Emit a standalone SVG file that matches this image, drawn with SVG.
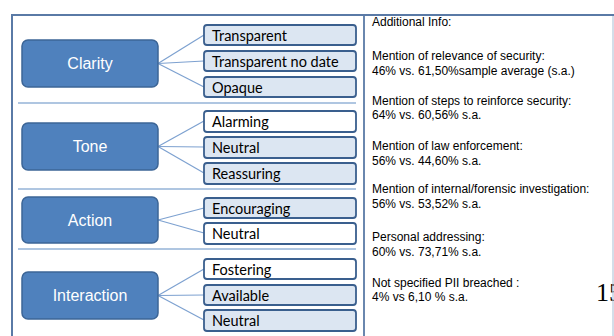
<svg xmlns="http://www.w3.org/2000/svg" width="614" height="336" viewBox="0 0 614 336">
<style>
.cat rect{fill:#4F81BD;stroke:#3C6596;stroke-width:1.5}
.cat text{fill:#fff;font-family:"Liberation Sans",Arial,sans-serif;font-size:16px;text-anchor:middle}
.item rect{stroke:#3A5F8E;stroke-width:1.8}
.lb rect{fill:#DCE6F2}
.wh rect{fill:#fff}
.item text{fill:#000;font-family:Lato,"Open Sans",sans-serif;font-size:14.5px}
.conn line{stroke:#7DA1D0;stroke-width:1.2}
.sep{stroke:#95B3D7;stroke-width:1.5}
.info text{fill:#000;font-family:"Liberation Sans",Arial,sans-serif;font-size:12px}
</style>
<rect width="614" height="336" fill="#fff"/>
<!-- frames -->
<path d="M12,340 V15 H614" fill="none" stroke="#5A7AA6" stroke-width="2"/>
<line x1="364" y1="15" x2="364" y2="340" stroke="#5A7AA6" stroke-width="1.8"/>
<line class="sep" x1="18" y1="103" x2="356" y2="103"/>
<line class="sep" x1="18" y1="189" x2="356" y2="189"/>
<line class="sep" x1="18" y1="249" x2="356" y2="249"/>
<g id="connectors" class="conn">
<line x1="158" y1="63.5" x2="204" y2="35"/>
<line x1="158" y1="63.5" x2="204" y2="61"/>
<line x1="158" y1="63.5" x2="204" y2="87"/>
<line x1="158" y1="146.5" x2="204" y2="121"/>
<line x1="158" y1="146.5" x2="204" y2="147"/>
<line x1="158" y1="146.5" x2="204" y2="173"/>
<line x1="158" y1="220" x2="204" y2="208"/>
<line x1="158" y1="220" x2="204" y2="233"/>
<line x1="158" y1="295.5" x2="204" y2="269"/>
<line x1="158" y1="295.5" x2="204" y2="295"/>
<line x1="158" y1="295.5" x2="204" y2="320"/>
</g>
<g id="clarity" class="cat"><rect x="22" y="40" width="136" height="47" rx="6"/><text x="90" y="69">Clarity</text></g>
<g id="tone" class="cat"><rect x="22" y="123" width="136" height="47" rx="6"/><text x="90" y="152">Tone</text></g>
<g id="action" class="cat"><rect x="22" y="197" width="136" height="46" rx="6"/><text x="90" y="226">Action</text></g>
<g id="interaction" class="cat"><rect x="22" y="272" width="136" height="47" rx="6"/><text x="90" y="301">Interaction</text></g>

<g id="transparent" class="item lb"><rect x="204" y="25" width="152" height="20" rx="3"/><text x="212" y="40.5">Transparent</text></g>
<g id="transparent-no-date" class="item lb"><rect x="204" y="51" width="152" height="20" rx="3"/><text x="212" y="66.5">Transparent no date</text></g>
<g id="opaque" class="item lb"><rect x="204" y="77" width="152" height="20" rx="3"/><text x="212" y="92.5">Opaque</text></g>

<g id="alarming" class="item wh"><rect x="204" y="111" width="152" height="21" rx="3"/><text x="212" y="127">Alarming</text></g>
<g id="tone-neutral" class="item lb"><rect x="204" y="137" width="152" height="21" rx="3"/><text x="212" y="153">Neutral</text></g>
<g id="reassuring" class="item lb"><rect x="204" y="163" width="152" height="21" rx="3"/><text x="212" y="179">Reassuring</text></g>

<g id="encouraging" class="item lb"><rect x="204" y="198" width="152" height="20" rx="3"/><text x="212" y="213.5">Encouraging</text></g>
<g id="action-neutral" class="item wh"><rect x="204" y="223" width="152" height="21" rx="3"/><text x="212" y="239">Neutral</text></g>

<g id="fostering" class="item wh"><rect x="204" y="259" width="152" height="20" rx="3"/><text x="212" y="274.5">Fostering</text></g>
<g id="available" class="item lb"><rect x="204" y="285" width="152" height="20" rx="3"/><text x="212" y="300.5">Available</text></g>
<g id="interaction-neutral" class="item lb"><rect x="204" y="310" width="152" height="21" rx="3"/><text x="212" y="326">Neutral</text></g>

<g id="additional-info" class="info">
<text x="372" y="26">Additional Info:</text>
<text x="372" y="60">Mention of relevance of security:</text>
<text x="372" y="75">46% vs. 61,50%sample average (s.a.)</text>
<text x="372" y="105">Mention of steps to reinforce security:</text>
<text x="372" y="119">64% vs. 60,56% s.a.</text>
<text x="372" y="150">Mention of law enforcement:</text>
<text x="372" y="165">56% vs. 44,60% s.a.</text>
<text x="372" y="193">Mention of internal/forensic investigation:</text>
<text x="372" y="208">56% vs. 53,52% s.a.</text>
<text x="372" y="241">Personal addressing:</text>
<text x="372" y="256">60% vs. 73,71% s.a.</text>
<text x="372" y="287">Not specified PII breached :</text>
<text x="372" y="301">4% vs 6,10 % s.a.</text>
</g>
<text x="596" y="301" font-family="'Liberation Serif','Times New Roman',serif" font-size="26" fill="#000">15</text>
<line x1="613" y1="16" x2="613" y2="340" stroke="#B8C8DA" stroke-width="1.2"/>
</svg>
